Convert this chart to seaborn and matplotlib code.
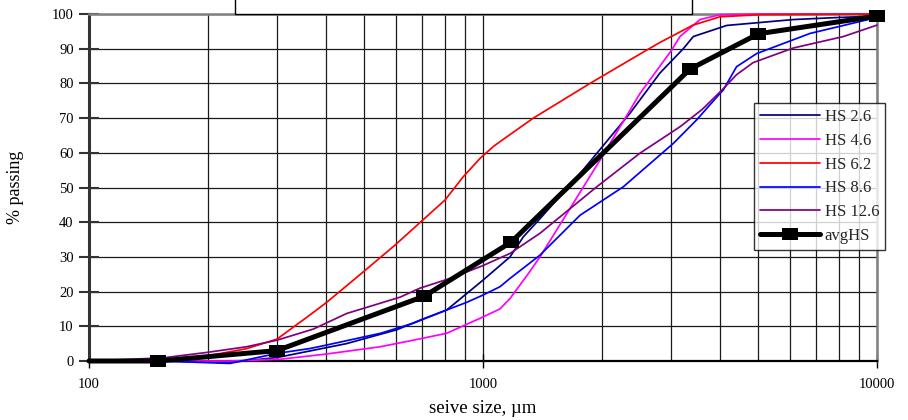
import matplotlib
matplotlib.use("Agg")
import matplotlib.pyplot as plt
import seaborn as sns
from matplotlib.patches import Rectangle
from matplotlib.ticker import FixedLocator, FixedFormatter, LogLocator, NullFormatter

# Grading curves: sieve size (µm) vs cumulative % passing
hs26_size = [100, 150, 228, 300, 450, 604, 700, 809, 1000, 1171, 1266, 1395, 1763,
             2361, 2813, 3224, 3418, 4154, 6132, 8000, 10000]
hs26_pass = [0, 0, -0.4, 1, 5, 9, 12, 14.7, 23.3, 30, 35.8, 41, 54,
             71.4, 83, 90, 93.5, 96.7, 98.4, 99, 99.4]

hs46_size = [100, 150, 228, 305, 400, 548, 700, 809, 983, 1104, 1171, 1300, 1395,
             1982, 2503, 3012, 3162, 3555, 3995, 5000, 10000]
hs46_pass = [0, 0, 0, 0.5, 2, 4.1, 6.5, 8, 12.3, 15, 18, 25, 30,
             57.9, 77.1, 89.6, 93.5, 98.4, 99.8, 100, 100]

hs62_size = [100, 150, 200, 250, 300, 364, 401, 497, 598, 703, 801, 891, 983, 1062,
             1104, 1342, 1869, 2603, 2813, 3412, 3995, 5047, 10000]
hs62_pass = [0, 0, 1.5, 3.5, 6.3, 13.3, 16.9, 25.7, 33.4, 40.6, 46.4, 53.1, 58.4, 61.8,
             63.2, 70, 80, 89.6, 91.8, 96.8, 99.2, 99.8, 100]

hs86_size = [100, 150, 228, 300, 364, 401, 550, 666, 800, 909, 1000, 1104, 1171, 1395,
             1763, 2270, 3041, 3486, 3995, 4073, 4400, 4950, 6762, 9417, 10000]
hs86_pass = [0, 0, -0.7, 2.2, 3.6, 4.6, 8, 10.9, 14.5, 16.9, 19, 21.4, 23.8, 30.5,
             42, 50.2, 62.7, 69.5, 77.1, 78.1, 84.8, 88.6, 94.4, 98.3, 99]

hs126_size = [100, 154, 200, 251, 300, 371, 451, 616, 692, 825, 1000, 1171, 1395,
              1944, 2503, 2813, 3162, 3600, 4035, 4400, 4850, 6132, 8214, 10000]
hs126_pass = [0, 0.9, 2.5, 4.1, 6, 9.2, 13.7, 18.4, 21, 23.8, 27.5, 31, 36.8,
              50.2, 59.9, 63.7, 67.5, 72.5, 78, 82.5, 86, 90.2, 93.5, 96.8]

avg_size = [100, 150, 300, 710, 1180, 3350, 5000, 10000]
avg_pass = [0, 0, 3, 18.7, 34.3, 84.1, 94.3, 99.4]

series_labels = ["HS 2.6", "HS 4.6", "HS 6.2", "HS 8.6", "HS 12.6"]
series_colors = ["#000080", "#FF00FF", "#FF0000", "#0000FF", "#800080"]
series_data = [(hs26_size, hs26_pass), (hs46_size, hs46_pass), (hs62_size, hs62_pass),
               (hs86_size, hs86_pass), (hs126_size, hs126_pass)]

x_ticks = [100, 1000, 10000]
x_tick_labels = ["100", "1000", "10000"]
y_ticks = list(range(0, 101, 10))

sns.set_theme(style="white")
plt.rcParams["font.family"] = ["Liberation Serif", "DejaVu Serif"]

fig = plt.figure(figsize=(9.08, 4.2), dpi=100)
ax = fig.add_axes([89 / 908, 59 / 420, 788 / 908, 347 / 420])
ax.set_xscale("log")
ax.set_xlim(100, 10000)
ax.set_ylim(0, 100)

handles = []
for label, (xs, ys), color in zip(series_labels, series_data, series_colors):
    sns.lineplot(x=xs, y=ys, ax=ax, color=color, lw=1.25, estimator=None,
                 sort=False, clip_on=False, zorder=3)
    handles.append(ax.get_lines()[-1])

# average curve: straight segments with rectangular markers at the sieve points
rect = [(-1, -0.7), (1, -0.7), (1, 0.7), (-1, 0.7), (-1, -0.7)]
sns.lineplot(x=avg_size, y=avg_pass, ax=ax, color="black", lw=3.6,
             estimator=None, sort=False, clip_on=False, zorder=4)
avg_line = ax.get_lines()[-1]
sns.lineplot(x=avg_size[1:], y=avg_pass[1:], ax=ax, color="black", lw=0,
             linestyle="none", marker=rect, markersize=12, markeredgewidth=0,
             estimator=None, sort=False, clip_on=False, zorder=5)
avg_marks = ax.get_lines()[-1]

# grid
ax.xaxis.set_major_locator(FixedLocator(x_ticks))
ax.xaxis.set_major_formatter(FixedFormatter(x_tick_labels))
ax.xaxis.set_minor_locator(LogLocator(base=10, subs=range(2, 10)))
ax.xaxis.set_minor_formatter(NullFormatter())
ax.set_yticks(y_ticks)
ax.grid(True, which="both", axis="x", color="#1a1a1a", lw=0.9)
ax.grid(True, which="major", axis="y", color="#1a1a1a", lw=0.9)
ax.set_axisbelow(True)

ax.tick_params(axis="x", which="major", direction="inout", length=10, width=1,
               colors="black", labelsize=10.5, pad=7, bottom=True)
ax.tick_params(axis="x", which="minor", length=0)
ax.tick_params(axis="y", which="major", direction="inout", length=14, width=1.5,
               colors="#333333", labelcolor="black", labelsize=10.5, pad=4, left=True)

for side in ["top", "right"]:
    ax.spines[side].set_color("#808080")
    ax.spines[side].set_linewidth(1.8)
ax.spines["left"].set_color("#333333")
ax.spines["left"].set_linewidth(2.2)
ax.spines["bottom"].set_color("black")
ax.spines["bottom"].set_linewidth(1.6)

ax.set_xlabel("seive size, µm", fontsize=13.5, color="black")
ax.set_ylabel("% passing", fontsize=13, color="black")
ax.xaxis.set_label_coords(0.5, -0.113)
ax.yaxis.set_label_coords(-0.083, 0.5)

leg = ax.legend(handles=handles + [(avg_line, avg_marks)],
                labels=series_labels + ["avgHS"],
                loc="upper left", bbox_to_anchor=((754 - 89) / 788, (361 - 103) / 347),
                borderaxespad=0, frameon=True, fancybox=False, fontsize=12,
                handlelength=3.6, handletextpad=0.3, labelspacing=0.47,
                borderpad=0.35)
leg.get_frame().set_edgecolor("black")
leg.get_frame().set_linewidth(1.0)
leg.get_frame().set_facecolor("white")
leg.set_zorder(10)

# box along the top edge of the figure
fig.patches.append(Rectangle((235 / 908, 1 - 14 / 420), (692 - 235) / 908, 0.1,
                             transform=fig.transFigure, facecolor="white",
                             edgecolor="black", lw=1.0, zorder=20))

fig.savefig("out.png", dpi=100)
